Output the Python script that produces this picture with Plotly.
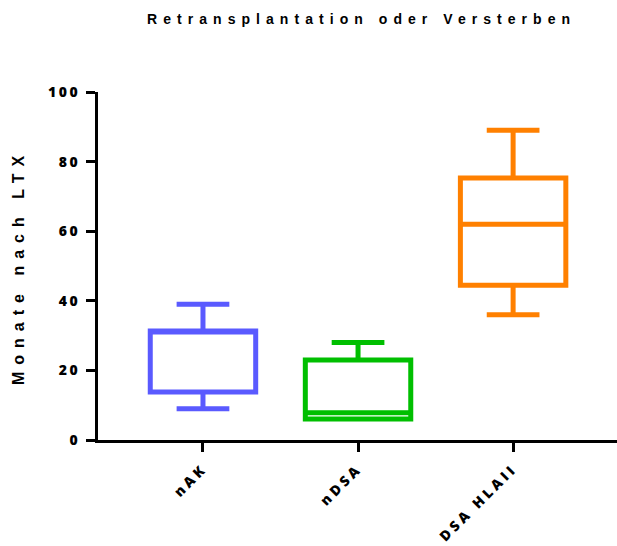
import plotly.graph_objects as go

categories = ["nAK", "nDSA", "DSA HLAII"]
lower_whisker = [9, 6, 36]
q1_values = [13.8, 6, 44.5]
median_values = [31.3, 7.8, 62]
q3_values = [31.3, 23, 75.3]
upper_whisker = [39, 28, 89]
colors = ["#5A5AFF", "#00BF00", "#FF8000"]
y_ticks = [0, 20, 40, 60, 80, 100]


def spaced(text, px):
    return f'<span style="letter-spacing:{px}px">{text}</span>'


fig = go.Figure()
for i, cat in enumerate(categories):
    fig.add_trace(go.Box(
        x=[cat],
        q1=[q1_values[i]],
        median=[median_values[i]],
        q3=[q3_values[i]],
        lowerfence=[lower_whisker[i]],
        upperfence=[upper_whisker[i]],
        boxpoints=False,
        width=0.68,
        whiskerwidth=0.5,
        line=dict(color=colors[i], width=5),
        fillcolor="white",
        showlegend=False,
        hoverinfo="y",
    ))

fig.update_layout(
    width=617, height=546,
    margin=dict(l=98, r=0, t=92, b=106),
    paper_bgcolor="white", plot_bgcolor="white",
    title=dict(text="<b>" + spaced("Retransplantation oder Versterben", 6.05) + "</b>",
               font=dict(family="Liberation Sans, Arial", size=14, color="black"),
               x=147 / 617, xanchor="left", xref="container",
               y=1 - 19 / 546, yanchor="middle"),
    xaxis=dict(
        type="category",
        range=[-0.677, 2.67],
        automargin=False,
        showline=True, linecolor="black", linewidth=3,
        ticks="outside", ticklen=9, tickwidth=3, tickcolor="black",
        tickangle=-45,
        ticklabelstandoff=3,
        tickmode="array", tickvals=categories,
        ticktext=[spaced(c, 3.5) for c in categories],
        tickfont=dict(family="Open Sans", size=14, color="black", weight=800),
        showgrid=False, zeroline=False,
    ),
    yaxis=dict(
        range=[0, 100],
        automargin=False,
        tickmode="array", tickvals=y_ticks,
        ticktext=[spaced(str(v), 2.5) for v in y_ticks],
        ticklabelstandoff=3,
        showline=True, linecolor="black", linewidth=3,
        ticks="outside", ticklen=9, tickwidth=3, tickcolor="black",
        tickfont=dict(family="Open Sans", size=14, color="black", weight=800),
        showgrid=False, zeroline=False,
    ),
    annotations=[dict(
        text="<b>" + spaced("Monate nach LTX", 7) + "</b>",
        font=dict(family="Liberation Sans, Arial", size=16, color="black"),
        textangle=-90,
        xref="paper", yref="paper",
        x=(18 - 98) / 519, y=(440 - 267) / 348,
        xanchor="center", yanchor="middle",
        showarrow=False,
    )],
)

fig.write_html("out.html",
               config={"displayModeBar": False},
               post_script="document.body.style.margin='0';document.body.style.overflow='hidden';")
